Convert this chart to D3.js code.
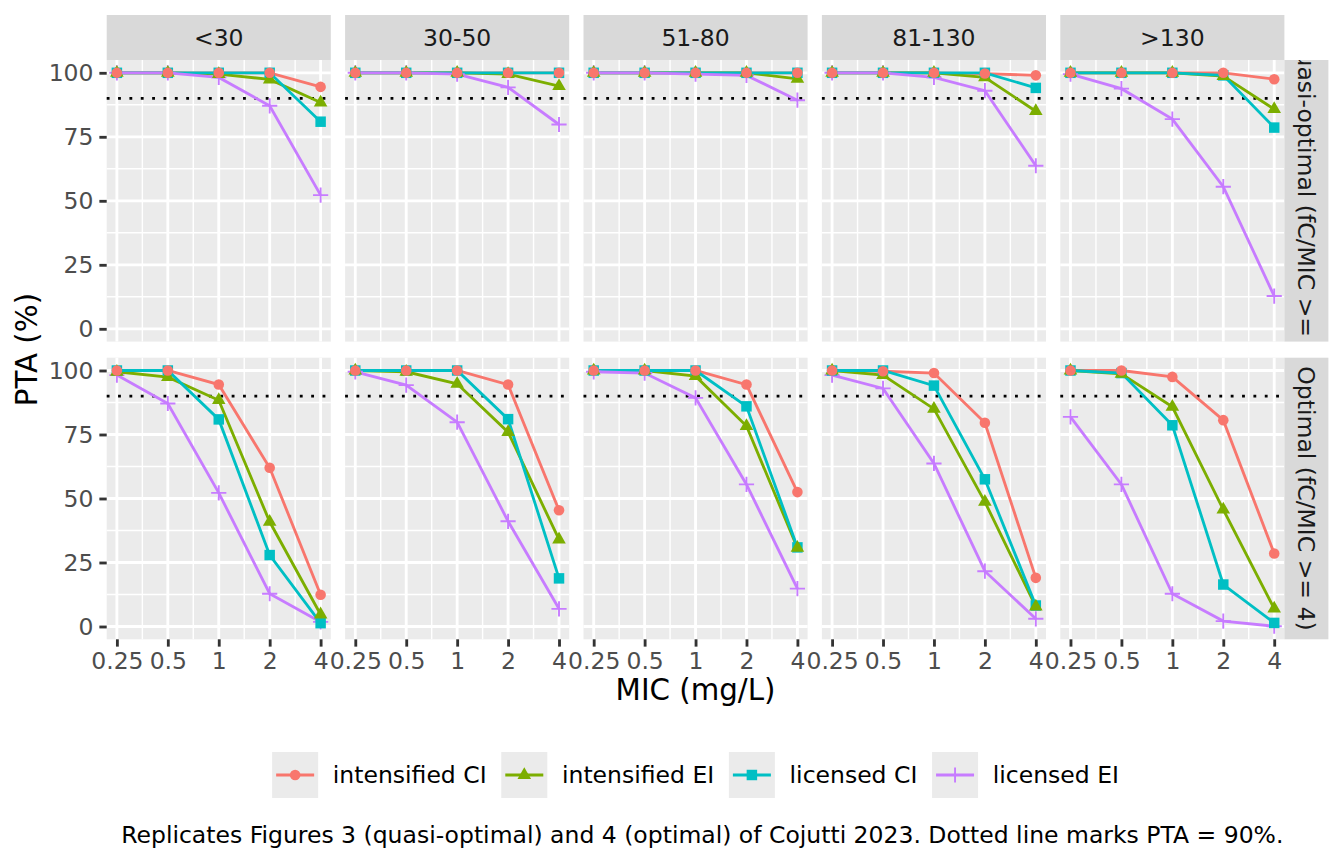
<!DOCTYPE html>
<html>
<head>
<meta charset="utf-8">
<script src="https://cdn.jsdelivr.net/npm/d3@7"></script>
<style>
  body { margin: 0; background: #fff; }
  svg { display: block; font-family: "DejaVu Sans", sans-serif; }
</style>
</head>
<body>
<script>
// facets and x values
var crclGroups = ["<30", "30-50", "51-80", "81-130", ">130"];
var micValues = [0.25, 0.5, 1, 2, 4];
var regimens = ["intensified CI", "intensified EI", "licensed CI", "licensed EI"];
var targets = ["Quasi-optimal (fC/MIC >= 1)", "Optimal (fC/MIC >= 4)"];
var yTicks = [0, 25, 50, 75, 100];
var ptaTarget = 90;
var caption = "Replicates Figures 3 (quasi-optimal) and 4 (optimal) of Cojutti 2023. Dotted line marks PTA = 90%.";

// PTA (%): one row per CrCl group, one value per MIC
// quasi-optimal target
var quasiIntensifiedCI = [
  [100, 100, 100, 100, 94.5],
  [100, 100, 100, 100, 100],
  [100, 100, 100, 100, 100],
  [100, 100, 100, 99.7, 99],
  [100, 100, 100, 100, 97.5]
];
var quasiIntensifiedEI = [
  [100, 100, 99.5, 97.4, 88.4],
  [100, 100, 100, 99.5, 94.8],
  [100, 100, 100, 100, 97.6],
  [100, 100, 100, 98.2, 85],
  [100, 100, 100, 98.7, 85.8]
];
var quasiLicensedCI = [
  [100, 100, 100, 100, 80.9],
  [100, 100, 100, 100, 100],
  [100, 100, 100, 100, 100],
  [100, 100, 100, 100, 94.1],
  [100, 100, 100, 99, 78.6]
];
var quasiLicensedEI = [
  [100, 100, 98.2, 87.1, 52.2],
  [100, 100, 99.5, 94.3, 79.8],
  [100, 100, 99.5, 99, 89.3],
  [100, 100, 98.2, 93, 63.7],
  [99.5, 93.8, 81.9, 55.5, 12.8]
];
// optimal target
var optIntensifiedCI = [
  [100, 100, 94.5, 62, 12.4],
  [100, 100, 100, 94.5, 45.4],
  [100, 100, 100, 94.5, 52.5],
  [100, 99.7, 99, 79.6, 19],
  [100, 100, 97.5, 80.6, 28.5]
];
var optIntensifiedEI = [
  [99.5, 97.4, 88.4, 40.9, 4.7],
  [100, 99.5, 94.8, 75.9, 34],
  [100, 100, 97.8, 78.3, 30.7],
  [100, 98.2, 85, 48.7, 7.8],
  [100, 98.7, 85.8, 45.7, 7]
];
var optLicensedCI = [
  [100, 100, 80.9, 27.9, 1.3],
  [100, 100, 100, 81, 18.8],
  [100, 100, 100, 86, 30.9],
  [100, 100, 94.1, 57.5, 8.2],
  [100, 99, 78.6, 16.4, 1.4]
];
var optLicensedEI = [
  [98.2, 87.1, 52.2, 12.8, 1.8],
  [99.5, 94.3, 79.8, 41.1, 6.9],
  [99.5, 99, 89.3, 55.5, 14.8],
  [98.2, 93, 63.7, 21.6, 3],
  [81.9, 55.5, 12.8, 2.1, 0.1]
];

var ptaByTarget = [
  [quasiIntensifiedCI, quasiIntensifiedEI, quasiLicensedCI, quasiLicensedEI],
  [optIntensifiedCI, optIntensifiedEI, optLicensedCI, optLicensedEI]
];

var colors = ["#F8766D", "#7CAE00", "#00BFC4", "#C77CFF"];

window.onload = function () {
  var W = 1344, H = 864;
  var left = 106.7, top = 60, pw = 224.1, ph = 281.6, gap = 14.3;
  var stripH = 45, stripW = 44;
  var smallFont = 23.5, titleFont = 29.3;

  var svg = d3.select("body").append("svg")
    .attr("width", W).attr("height", H);

  var x = d3.scaleLog().base(2)
    .domain([0.25 / Math.pow(2, 0.2), 4 * Math.pow(2, 0.2)])
    .range([0, pw]);
  var y = d3.scaleLinear().domain([-5, 105]).range([ph, 0]);

  var xMinor = d3.pairs(micValues).map(function (p) { return Math.sqrt(p[0] * p[1]); });
  var yMinor = d3.pairs(yTicks).map(function (p) { return (p[0] + p[1]) / 2; });

  // symbol makers, ggplot shapes 16, 17, 15, 3
  var symPath = [
    d3.symbol().type(d3.symbolCircle).size(88)(),
    d3.symbol().type(d3.symbolTriangle).size(80)(),
    d3.symbol().type(d3.symbolSquare).size(110)(),
    "M-7.6,0H7.6M0,-7.6V7.6"
  ];
  function drawSymbol(g, k, cx, cy) {
    var p = g.append("path")
      .attr("d", symPath[k])
      .attr("transform", "translate(" + cx + "," + cy + ")");
    if (k === 3) {
      p.attr("fill", "none").attr("stroke", colors[k]).attr("stroke-width", 1.9);
    } else {
      p.attr("fill", colors[k]);
    }
  }

  var line = d3.line()
    .x(function (d, i) { return x(micValues[i]); })
    .y(function (d) { return y(d); });

  targets.forEach(function (target, r) {
    var py = top + r * (ph + gap + 1.8);
    crclGroups.forEach(function (grp, c) {
      var px = left + c * (pw + gap);
      var g = svg.append("g").attr("transform", "translate(" + px + "," + py + ")");

      g.append("rect").attr("width", pw).attr("height", ph).attr("fill", "#EBEBEB");

      // grid
      g.selectAll(".ymin").data(yMinor).enter().append("line")
        .attr("x1", 0).attr("x2", pw)
        .attr("y1", function (d) { return y(d); }).attr("y2", function (d) { return y(d); })
        .attr("stroke", "#fff").attr("stroke-width", 1.42);
      g.selectAll(".xmin").data(xMinor).enter().append("line")
        .attr("y1", 0).attr("y2", ph)
        .attr("x1", function (d) { return x(d); }).attr("x2", function (d) { return x(d); })
        .attr("stroke", "#fff").attr("stroke-width", 1.42);
      g.selectAll(".ymaj").data(yTicks).enter().append("line")
        .attr("x1", 0).attr("x2", pw)
        .attr("y1", function (d) { return y(d); }).attr("y2", function (d) { return y(d); })
        .attr("stroke", "#fff").attr("stroke-width", 2.84);
      g.selectAll(".xmaj").data(micValues).enter().append("line")
        .attr("y1", 0).attr("y2", ph)
        .attr("x1", function (d) { return x(d); }).attr("x2", function (d) { return x(d); })
        .attr("stroke", "#fff").attr("stroke-width", 2.84);

      // dotted target line
      g.append("line")
        .attr("x1", 0).attr("x2", pw)
        .attr("y1", y(ptaTarget)).attr("y2", y(ptaTarget))
        .attr("stroke", "#000").attr("stroke-width", 2.84)
        .attr("stroke-dasharray", "2.84 8.52");

      var series = ptaByTarget[r];
      series.forEach(function (s, k) {
        g.append("path")
          .attr("d", line(s[c]))
          .attr("fill", "none")
          .attr("stroke", colors[k])
          .attr("stroke-width", 2.84);
      });
      [3, 2, 1, 0].forEach(function (k) {
        series[k][c].forEach(function (v, i) {
          drawSymbol(g, k, x(micValues[i]), y(v));
        });
      });

      // x axis on bottom row
      if (r === targets.length - 1) {
        var ax = g.append("g").attr("transform", "translate(0," + ph + ")")
          .call(d3.axisBottom(x).tickValues(micValues)
            .tickFormat(function (d) { return String(d); })
            .tickSize(7.33).tickPadding(5.87));
        ax.select(".domain").remove();
        ax.selectAll("line").attr("stroke", "#333").attr("stroke-width", 2.84);
        ax.selectAll("text").attr("fill", "#4D4D4D")
          .style("font-size", smallFont + "px").style("font-family", "DejaVu Sans");
      }
      // y axis on first column
      if (c === 0) {
        var ay = g.append("g")
          .call(d3.axisLeft(y).tickValues(yTicks).tickSize(7.33).tickPadding(5.87));
        ay.select(".domain").remove();
        ay.selectAll("line").attr("stroke", "#333").attr("stroke-width", 2.84);
        ay.selectAll("text").attr("fill", "#4D4D4D")
          .style("font-size", smallFont + "px").style("font-family", "DejaVu Sans");
      }

      // top strips
      if (r === 0) {
        svg.append("rect")
          .attr("x", px).attr("y", top - stripH)
          .attr("width", pw).attr("height", stripH)
          .attr("fill", "#D9D9D9");
        svg.append("text")
          .attr("x", px + pw / 2).attr("y", top - stripH / 2)
          .attr("dy", "0.36em")
          .attr("text-anchor", "middle")
          .attr("fill", "#1A1A1A")
          .style("font-size", smallFont + "px")
          .text(grp);
      }
    });

    // right strip, text clipped like ggplot
    var sx = left + crclGroups.length * pw + (crclGroups.length - 1) * gap;
    svg.append("clipPath").attr("id", "clipStrip" + r)
      .append("rect").attr("x", sx).attr("y", py).attr("width", stripW).attr("height", ph);
    svg.append("rect")
      .attr("x", sx).attr("y", py).attr("width", stripW).attr("height", ph)
      .attr("fill", "#D9D9D9");
    svg.append("g").attr("clip-path", "url(#clipStrip" + r + ")")
      .append("text")
      .attr("transform", "translate(" + (sx + stripW / 2) + "," + (py + ph / 2) + ") rotate(90)")
      .attr("dy", "0.36em")
      .attr("text-anchor", "middle")
      .attr("fill", "#1A1A1A")
      .style("font-size", smallFont + "px")
      .text(target);
  });

  var panelsRight = left + crclGroups.length * pw + (crclGroups.length - 1) * gap;
  var panelsMid = (left + panelsRight) / 2;

  // axis titles
  svg.append("text")
    .attr("x", panelsMid).attr("y", 700)
    .attr("text-anchor", "middle")
    .attr("fill", "#000")
    .style("font-size", titleFont + "px")
    .text("MIC (mg/L)");
  svg.append("text")
    .attr("transform", "translate(37," + (top + ph + 8) + ") rotate(-90)")
    .attr("text-anchor", "middle")
    .attr("fill", "#000")
    .style("font-size", titleFont + "px")
    .text("PTA (%)");

  // legend
  var keySize = 46, legY = 752;
  var leg = svg.append("g");
  var cursor = 0;
  regimens.forEach(function (name, k) {
    var item = leg.append("g").attr("transform", "translate(" + cursor + "," + legY + ")");
    item.append("rect").attr("width", keySize).attr("height", keySize).attr("fill", "#EBEBEB");
    item.append("line")
      .attr("x1", 4).attr("x2", keySize - 4)
      .attr("y1", keySize / 2).attr("y2", keySize / 2)
      .attr("stroke", colors[k]).attr("stroke-width", 2.84);
    drawSymbol(item, k, keySize / 2, keySize / 2);
    var t = item.append("text")
      .attr("x", keySize + 14.7).attr("y", keySize / 2)
      .attr("dy", "0.36em")
      .attr("fill", "#000")
      .style("font-size", smallFont + "px")
      .text(name);
    cursor += keySize + 14.7 + t.node().getComputedTextLength() + 14.7;
  });
  var legW = cursor - 14.7;
  leg.attr("transform", "translate(" + (panelsMid - legW / 2) + ",0)");

  // caption
  svg.append("text")
    .attr("x", panelsRight - 1).attr("y", 843)
    .attr("text-anchor", "end")
    .attr("fill", "#000")
    .style("font-size", smallFont + "px")
    .text(caption);
};
</script>
</body>
</html>
